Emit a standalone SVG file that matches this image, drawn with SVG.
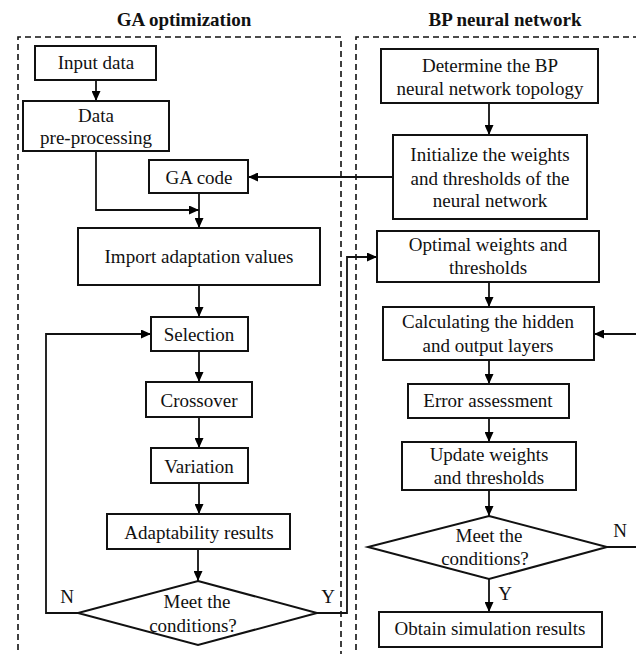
<svg xmlns="http://www.w3.org/2000/svg" width="636" height="654" viewBox="0 0 636 654">
<defs>
<marker id="ah" markerWidth="10" markerHeight="9" refX="10" refY="4.5" orient="auto" markerUnits="userSpaceOnUse">
<path d="M0,0 L10,4.5 L0,9 z" fill="#000"/>
</marker>
<style>
text{font-family:"Liberation Serif","Times New Roman",serif;font-size:19px;fill:#111;text-anchor:middle}
.title{font-weight:bold}
.box{fill:#fff;stroke:#111;stroke-width:2}
.frame{fill:none;stroke:#111;stroke-width:1.6;stroke-dasharray:6 4}
.conn{fill:none;stroke:#111;stroke-width:1.8}
.arr{marker-end:url(#ah)}
</style>
</defs>
<rect width="636" height="654" fill="#fff"/>

<g id="frames">
<text class="title" x="184" y="26">GA optimization</text>
<text class="title" x="505" y="26">BP neural network</text>
<path class="frame" d="M18,660 V37 H341 V660"/>
<path class="frame" d="M356,660 V37 H640"/>
</g>

<g id="connectors">
<path class="conn arr" d="M96,80 V101"/>
<path class="conn arr" d="M96,151 V210 H199"/>
<path class="conn arr" d="M199,193 V228"/>
<path class="conn arr" d="M393,177 H248"/>
<path class="conn arr" d="M199,285 V317"/>
<path class="conn arr" d="M199,351 V382"/>
<path class="conn arr" d="M199,417 V448"/>
<path class="conn arr" d="M199,483 V514"/>
<path class="conn arr" d="M198,549 V581"/>
<path class="conn arr" d="M78,613 H46 V334 H151"/>
<path class="conn arr" d="M317,613 H347 V257 H377"/>
<path class="conn arr" d="M489,103 V135"/>
<path class="conn arr" d="M489,282 V307"/>
<path class="conn arr" d="M489,360 V384"/>
<path class="conn arr" d="M489,418 V442"/>
<path class="conn arr" d="M489,490 V516"/>
<path class="conn arr" d="M489,579 V612"/>
<path class="conn arr" d="M607,547 H642 V334 H594"/>
<text x="67" y="603">N</text>
<text x="328" y="603">Y</text>
<text x="620" y="537">N</text>
<text x="505" y="600">Y</text>
</g>

<g id="input-data">
<rect class="box" x="35" y="46" width="121" height="34"/>
<text x="96" y="69">Input data</text>
</g>
<g id="data-preprocessing">
<rect class="box" x="23" y="101" width="146" height="50"/>
<text x="96" y="122">Data</text>
<text x="96" y="144">pre-processing</text>
</g>
<g id="ga-code">
<rect class="box" x="149" y="160" width="99" height="33"/>
<text x="199" y="184">GA code</text>
</g>
<g id="import-adaptation">
<rect class="box" x="78" y="228" width="242" height="57"/>
<text x="199" y="263">Import adaptation values</text>
</g>
<g id="selection">
<rect class="box" x="151" y="317" width="97" height="34"/>
<text x="199" y="341">Selection</text>
</g>
<g id="crossover">
<rect class="box" x="146" y="382" width="106" height="35"/>
<text x="199" y="407">Crossover</text>
</g>
<g id="variation">
<rect class="box" x="151" y="448" width="97" height="35"/>
<text x="199" y="473">Variation</text>
</g>
<g id="adaptability-results">
<rect class="box" x="107" y="514" width="183" height="35"/>
<text x="199" y="539">Adaptability results</text>
</g>
<g id="ga-condition">
<polygon class="box" points="198,581 317,613 198,645 78,613"/>
<text x="197" y="608">Meet the</text>
<text x="193" y="632">conditions?</text>
</g>

<g id="determine-topology">
<rect class="box" x="381" y="49" width="217" height="54"/>
<text x="490" y="72">Determine the BP</text>
<text x="490" y="95">neural network topology</text>
</g>
<g id="initialize">
<rect class="box" x="393" y="135" width="194" height="84"/>
<text x="490" y="161">Initialize the weights</text>
<text x="490" y="185">and thresholds of the</text>
<text x="490" y="207">neural network</text>
</g>
<g id="optimal-weights">
<rect class="box" x="377" y="231" width="222" height="51"/>
<text x="488" y="251">Optimal weights and</text>
<text x="488" y="274">thresholds</text>
</g>
<g id="calculating-layers">
<rect class="box" x="383" y="307" width="211" height="53"/>
<text x="488" y="328">Calculating the hidden</text>
<text x="488" y="352">and output layers</text>
</g>
<g id="error-assessment">
<rect class="box" x="408" y="384" width="161" height="34"/>
<text x="488" y="407">Error assessment</text>
</g>
<g id="update-weights">
<rect class="box" x="402" y="442" width="174" height="48"/>
<text x="489" y="461">Update weights</text>
<text x="489" y="484">and thresholds</text>
</g>
<g id="bp-condition">
<polygon class="box" points="489,516 607,547 489,579 368,547"/>
<text x="489" y="542">Meet the</text>
<text x="485" y="565">conditions?</text>
</g>
<g id="obtain-results">
<rect class="box" x="379" y="612" width="223" height="35"/>
<text x="490" y="635">Obtain simulation results</text>
</g>
</svg>
